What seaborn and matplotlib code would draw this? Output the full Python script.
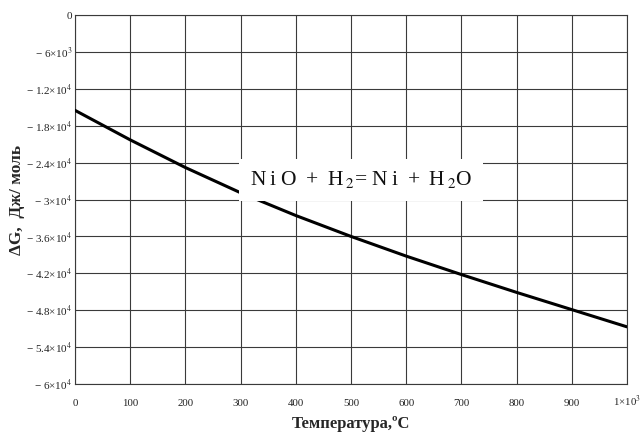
import numpy as np
import pandas as pd
import matplotlib
matplotlib.use("Agg")
import matplotlib.pyplot as plt
import seaborn as sns

# Data
temperature = [0, 100, 200, 300, 400, 500, 600, 700, 800, 900, 1000]
delta_g = [-15500, -20300, -24800, -28900, -32600, -36000, -39200, -42200, -45100, -47900, -50700]

x_ticks = [0, 100, 200, 300, 400, 500, 600, 700, 800, 900, 1000]
x_tick_labels = ["0", "100", "200", "300", "400", "500", "600", "700", "800", "900", "1×10$^{3}$"]
y_ticks = [0, -6000, -12000, -18000, -24000, -30000, -36000, -42000, -48000, -54000, -60000]
y_tick_labels = ["0", "− 6×10$^{3}$", "− 1.2×10$^{4}$", "− 1.8×10$^{4}$", "− 2.4×10$^{4}$",
                 "− 3×10$^{4}$", "− 3.6×10$^{4}$", "− 4.2×10$^{4}$", "− 4.8×10$^{4}$",
                 "− 5.4×10$^{4}$", "− 6×10$^{4}$"]

x_label = "Температура,ºС"
y_label = "ΔG,  Дж/ моль"
reaction = "N\u2009i\u2009O \u2009+\u2009 H$\\,_{2}$= N\u2009i \u2009+\u2009 H$\\,_{2}$O"

sns.set_theme(style="white")
plt.rcParams["font.family"] = ["Liberation Serif", "DejaVu Serif"]
plt.rcParams["mathtext.fontset"] = "stix"

df = pd.DataFrame({"T": temperature, "G": delta_g})

fig = plt.figure(figsize=(6.41, 4.34), dpi=100)
ax = fig.add_axes([0.117, 0.1152, 0.861, 0.8502])

grid_c = "#3a3a3a"
for xv in x_ticks:
    ax.axvline(xv, color=grid_c, lw=0.8, zorder=1)
for yv in y_ticks:
    ax.axhline(yv, color=grid_c, lw=0.8, zorder=1)

sns.lineplot(data=df, x="T", y="G", ax=ax, color="black", lw=2.2, zorder=3)

ax.set_xlim(0, 1000)
ax.set_ylim(-60000, 0)
ax.set_xticks(x_ticks)
ax.set_xticklabels(x_tick_labels, fontsize=7.8)
ax.set_yticks(y_ticks)
ax.set_yticklabels(y_tick_labels, fontsize=8)
ax.tick_params(axis="both", length=0, colors="#222222")
ax.tick_params(axis="x", pad=15.5)
ax.tick_params(axis="y", pad=2)
for lbl in ax.get_xticklabels():
    lbl.set_verticalalignment("baseline")

for s in ax.spines.values():
    s.set_color(grid_c)
    s.set_linewidth(0.8)

ax.set_xlabel(x_label, fontsize=12, fontweight="bold", labelpad=5)
ax.set_ylabel(y_label, fontsize=12.5, fontweight="bold", labelpad=1)

ax.text(0.518, 0.553, reaction, transform=ax.transAxes, ha="center", va="center",
        fontsize=15.5, color="#111111", zorder=4,
        bbox=dict(facecolor="white", edgecolor="none", boxstyle="square,pad=0.5"))

fig.savefig("out.png", dpi=100)
